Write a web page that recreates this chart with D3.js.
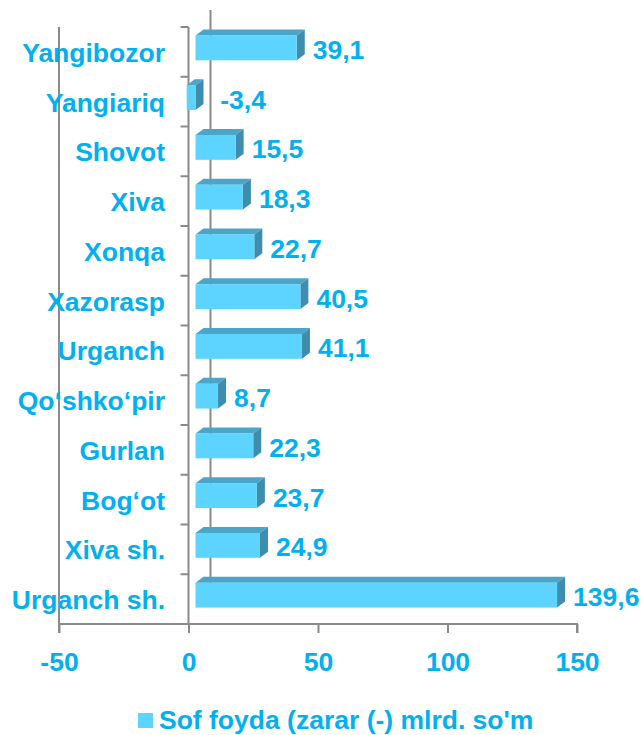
<!DOCTYPE html>
<html><head><meta charset="utf-8">
<script src="https://cdn.jsdelivr.net/npm/d3@7"></script>
<style>body{margin:0;background:#fff}svg{display:block}text{font-family:"Liberation Sans",Arial,sans-serif;font-weight:bold;fill:#00B0F0}</style>
</head><body><svg id="c" width="642" height="735"></svg>
<script>
const categories = ["Yangibozor","Yangiariq","Shovot","Xiva","Xonqa","Xazorasp","Urganch","Qo‘shko‘pir","Gurlan","Bog‘ot","Xiva sh.","Urganch sh."];
const values = [39.1,-3.4,15.5,18.3,22.7,40.5,41.1,8.7,22.3,23.7,24.9,139.6];
const labels = ["39,1","-3,4","15,5","18,3","22,7","40,5","41,1","8,7","22,3","23,7","24,9","139,6"];
const ticks = [-50,0,50,100,150];
const tickLabels = ["-50","0","50","100","150"];
const legendLabel = "Sof foyda (zarar (-) mlrd. so'm";

const FS = 26.5;
const svg = d3.select("#c");
const x = d3.scaleLinear().domain([-50,150]).range([59,577]);
const y = d3.scaleBand().domain(categories).range([27,624]).paddingInner(0.5).paddingOuter(0.25);
const step = y.step();
const grey = "#8a8a8a";
const wallDx = 22, wallDy = -17;   // back wall offset
const barDx = 8, barDy = 6;       // bar depth
const frontDx = 7, frontDy = -4;  // bar front plane offset

// left edge of floor
svg.append("line").attr("x1",x(-50)).attr("x2",x(-50)).attr("y1",27).attr("y2",624).attr("stroke",grey).attr("stroke-width",2);
// back zero line
svg.append("line").attr("x1",x(0)+wallDx).attr("x2",x(0)+wallDx).attr("y1",27+wallDy).attr("y2",624+wallDy).attr("stroke",grey).attr("stroke-width",2);
// category axis line
svg.append("line").attr("x1",x(0)).attr("x2",x(0)).attr("y1",27).attr("y2",624).attr("stroke",grey).attr("stroke-width",2);
// category ticks
const bounds = d3.range(categories.length+1).map(i=>27+i*step);
svg.selectAll(".ct").data(bounds).join("line").attr("x1",x(0)-8).attr("x2",x(0)).attr("y1",d=>d).attr("y2",d=>d).attr("stroke",grey).attr("stroke-width",2);

// value axis
const xAxis = svg.append("g").attr("transform","translate(0,624)")
  .call(d3.axisBottom(x).tickValues(ticks).tickSize(9).tickFormat((d,i)=>tickLabels[i]));
xAxis.select(".domain").attr("stroke",grey).attr("stroke-width",2).attr("d",`M${x(-50)},9V0H${x(150)}V9`);
xAxis.selectAll(".tick line").attr("stroke",grey).attr("stroke-width",2);
xAxis.selectAll(".tick text").attr("dy",null).attr("y",47).attr("font-size",FS)
  .style("font-family","'Liberation Sans',Arial,sans-serif").style("font-weight","bold").attr("fill","#00B0F0");

// bars
const g = svg.append("g");
categories.forEach((c,i)=>{
  const v = values[i];
  const x1 = Math.min(x(0),x(v))+frontDx, x2 = Math.max(x(0),x(v))+frontDx;
  const top = y(c)+frontDy, h = y.bandwidth();
  g.append("polygon").attr("points",`${x1},${top} ${x1+barDx},${top-barDy} ${x2+barDx},${top-barDy} ${x2},${top}`).attr("fill","#4AA5C9");
  g.append("polygon").attr("points",`${x2},${top} ${x2+barDx},${top-barDy} ${x2+barDx},${top+h-barDy} ${x2},${top+h}`).attr("fill","#3E8DAE");
  g.append("rect").attr("x",x1).attr("y",top).attr("width",x2-x1).attr("height",h).attr("fill","#5DD4FF");
  const lx = x(0)+frontDx+Math.abs(x(v)-x(0))+16;
  g.append("text").attr("x",lx).attr("y",top+h/2+11).attr("font-size",FS).text(labels[i]);
  svg.append("text").attr("x",165).attr("y",y(c)+h/2+10).attr("text-anchor","end").attr("font-size",FS).text(c);
});

// legend
svg.append("rect").attr("x",138).attr("y",713).attr("width",15).attr("height",15).attr("fill","#5DD4FF");
svg.append("text").attr("x",159).attr("y",729).attr("font-size",FS).text(legendLabel);
</script></body></html>
